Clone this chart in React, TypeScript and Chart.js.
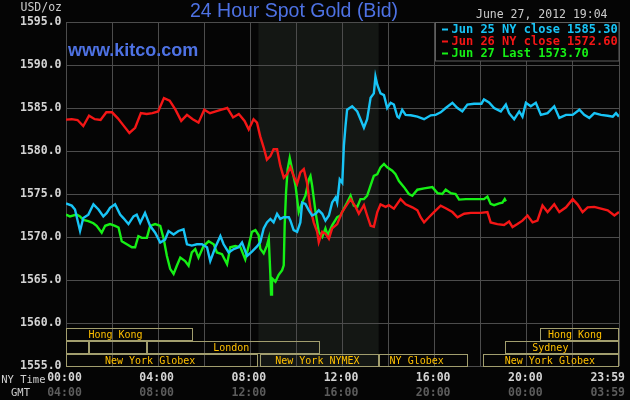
import React, { useEffect, useRef } from "react";
import { Chart, registerables } from "chart.js";

Chart.register(...registerables);

// ---------- data ----------
const titleText = "24 Hour Spot Gold (Bid)";
const siteText = "www.kitco.com";
const unitText = "USD/oz";
const stampText = "June 27, 2012 19:04";

const yTickValues = [1555, 1560, 1565, 1570, 1575, 1580, 1585, 1590, 1595];
const xLabelHours = [0, 4, 8, 12, 16, 20, 24];
const nyTimeLabels = ["00:00", "04:00", "08:00", "12:00", "16:00", "20:00", "23:59"];
const gmtLabels = ["04:00", "08:00", "12:00", "16:00", "20:00", "00:00", "03:59"];

const seriesNames = ["Jun 25 NY close", "Jun 26 NY close", "Jun 27 Last"];
const seriesQuotes = ["1585.30", "1572.60", "1573.70"];

const jun25Times = [0, 0.25, 0.39, 0.61, 0.75, 0.97, 1.19, 1.41, 1.62, 1.77, 1.91, 2.13, 2.35, 2.49, 2.71, 2.93, 3.07, 3.22, 3.43, 3.65, 3.87, 4.09, 4.3, 4.45, 4.67, 4.88, 5.1, 5.25, 5.46, 5.68, 5.9, 6.12, 6.26, 6.48, 6.7, 6.84, 7.06, 7.28, 7.49, 7.64, 7.86, 8.07, 8.29, 8.43, 8.58, 8.72, 8.87, 9.01, 9.16, 9.3, 9.45, 9.67, 9.74, 9.88, 10.03, 10.17, 10.25, 10.39, 10.54, 10.68, 10.83, 10.97, 11.12, 11.26, 11.41, 11.55, 11.7, 11.77, 11.88, 11.99, 12.06, 12.13, 12.2, 12.42, 12.64, 12.78, 12.93, 13.07, 13.22, 13.36, 13.43, 13.51, 13.65, 13.8, 13.94, 14.09, 14.23, 14.38, 14.45, 14.59, 14.74, 14.96, 15.25, 15.54, 15.83, 16.04, 16.26, 16.48, 16.77, 16.99, 17.2, 17.42, 17.71, 18.03, 18.14, 18.36, 18.58, 18.87, 19.09, 19.23, 19.45, 19.67, 19.81, 19.96, 20.17, 20.39, 20.61, 20.9, 21.19, 21.41, 21.7, 21.99, 22.28, 22.49, 22.71, 22.93, 23.22, 23.51, 23.73, 23.87, 24];
const jun25Values = [1573.9, 1573.65, 1573.2, 1570.7, 1572.2, 1572.6, 1573.8, 1573.2, 1572.4, 1572.8, 1573.4, 1573.8, 1572.6, 1572.2, 1571.5, 1572.4, 1572.6, 1571.65, 1572.8, 1571.3, 1570.5, 1569.35, 1569.7, 1570.7, 1570.3, 1570.7, 1570.9, 1569.15, 1569.0, 1569.15, 1569.15, 1568.8, 1567.2, 1568.8, 1570.1, 1569.15, 1568.2, 1568.6, 1568.8, 1569.35, 1567.8, 1568.3, 1568.9, 1569.4, 1571.0, 1571.7, 1572.1, 1571.7, 1572.7, 1572.1, 1572.3, 1572.3, 1571.9, 1570.8, 1570.6, 1571.7, 1574.0, 1573.85, 1573.1, 1572.5, 1572.7, 1573.1, 1572.7, 1571.9, 1572.5, 1574.0, 1574.6, 1574.0, 1576.7, 1576.3, 1580.6, 1582.9, 1584.8, 1585.2, 1584.6, 1583.7, 1582.7, 1583.7, 1586.2, 1586.7, 1588.65, 1587.7, 1586.7, 1586.5, 1585.0, 1585.6, 1585.4, 1584.0, 1583.85, 1584.8, 1584.2, 1584.15, 1584.0, 1583.7, 1584.15, 1584.2, 1584.5, 1585.0, 1585.6, 1585.0, 1584.6, 1585.4, 1585.5, 1585.5, 1586.0, 1585.65, 1585.0, 1584.6, 1585.4, 1584.4, 1583.7, 1584.6, 1584.0, 1585.6, 1585.2, 1585.6, 1584.2, 1584.4, 1585.2, 1583.85, 1584.2, 1584.2, 1584.8, 1584.2, 1583.85, 1584.4, 1584.2, 1584.1, 1584.0, 1584.4, 1584.0];

const jun26Times = [0, 0.25, 0.5, 0.75, 1.0, 1.25, 1.5, 1.75, 2.0, 2.25, 2.5, 2.75, 3.0, 3.25, 3.5, 3.75, 4.0, 4.25, 4.5, 4.75, 5.0, 5.25, 5.5, 5.75, 6.0, 6.25, 6.5, 6.75, 7.0, 7.25, 7.5, 7.75, 7.93, 8.14, 8.29, 8.43, 8.58, 8.72, 8.87, 9.01, 9.16, 9.3, 9.45, 9.59, 9.74, 9.88, 10.03, 10.17, 10.32, 10.46, 10.61, 10.75, 10.9, 10.97, 11.12, 11.26, 11.41, 11.55, 11.77, 11.98, 12.13, 12.35, 12.57, 12.71, 12.93, 13.07, 13.22, 13.36, 13.51, 13.65, 13.87, 14.01, 14.23, 14.52, 14.74, 15.03, 15.25, 15.39, 15.54, 15.75, 15.97, 16.26, 16.48, 16.77, 16.99, 17.28, 17.57, 18.0, 18.29, 18.43, 18.72, 19.01, 19.23, 19.38, 19.59, 19.81, 20.03, 20.25, 20.46, 20.68, 20.9, 21.19, 21.41, 21.7, 21.99, 22.2, 22.42, 22.64, 22.93, 23.22, 23.51, 23.8, 24];
const jun26Values = [1583.65, 1583.7, 1583.6, 1582.9, 1584.1, 1583.7, 1583.6, 1584.5, 1584.5, 1583.8, 1582.95, 1582.1, 1582.7, 1584.4, 1584.3, 1584.4, 1584.6, 1586.15, 1585.85, 1584.8, 1583.5, 1584.2, 1583.7, 1583.3, 1584.8, 1584.4, 1584.6, 1584.8, 1585.0, 1583.9, 1584.3, 1583.5, 1582.5, 1583.7, 1583.3, 1581.7, 1580.4, 1579.0, 1579.4, 1580.2, 1580.2, 1578.3, 1576.9, 1577.3, 1578.1, 1577.1, 1576.2, 1577.5, 1577.9, 1576.3, 1573.3, 1571.7, 1570.6, 1569.4, 1570.6, 1570.4, 1569.8, 1571.0, 1571.5, 1572.9, 1573.5, 1574.4, 1573.5, 1572.7, 1573.7, 1572.5, 1571.3, 1571.2, 1572.9, 1573.8, 1573.5, 1573.7, 1573.3, 1574.4, 1573.8, 1573.45, 1573.1, 1572.3, 1571.7, 1572.3, 1572.9, 1573.65, 1573.35, 1572.9, 1572.3, 1572.7, 1572.8, 1572.8, 1572.9, 1571.7, 1571.5, 1571.4, 1571.8, 1571.15, 1571.5, 1571.9, 1572.5, 1571.7, 1571.9, 1573.65, 1572.9, 1573.8, 1572.9, 1573.45, 1574.4, 1573.8, 1572.9, 1573.45, 1573.5, 1573.3, 1573.1, 1572.5, 1572.9];

const jun27Times = [0, 0.17, 0.46, 0.61, 0.75, 0.97, 1.19, 1.33, 1.55, 1.7, 1.91, 2.13, 2.28, 2.42, 2.64, 2.86, 3.0, 3.14, 3.29, 3.51, 3.65, 3.87, 4.09, 4.23, 4.38, 4.52, 4.67, 4.81, 4.96, 5.17, 5.32, 5.46, 5.61, 5.75, 5.97, 6.19, 6.41, 6.55, 6.77, 6.99, 7.13, 7.35, 7.57, 7.78, 7.93, 8.07, 8.22, 8.36, 8.43, 8.58, 8.72, 8.8, 8.87, 8.9, 8.94, 9.09, 9.23, 9.38, 9.45, 9.49, 9.55, 9.62, 9.71, 9.81, 9.96, 10.1, 10.25, 10.39, 10.54, 10.61, 10.68, 10.83, 10.97, 11.12, 11.26, 11.36, 11.55, 11.77, 11.91, 12.06, 12.2, 12.35, 12.49, 12.64, 12.78, 12.93, 13.07, 13.22, 13.36, 13.51, 13.65, 13.8, 13.94, 14.16, 14.3, 14.45, 14.67, 14.88, 15.03, 15.25, 15.54, 15.9, 16.12, 16.33, 16.48, 16.7, 16.91, 17.06, 17.35, 17.71, 18.14, 18.29, 18.43, 18.58, 18.8, 18.94, 19.04, 19.09];
const jun27Values = [1572.6, 1572.4, 1572.6, 1572.4, 1572.0, 1571.85, 1571.6, 1571.3, 1570.5, 1571.3, 1571.5, 1571.3, 1571.1, 1569.5, 1569.15, 1568.8, 1568.8, 1570.1, 1569.9, 1569.9, 1571.3, 1571.5, 1571.3, 1569.9, 1567.8, 1566.3, 1565.7, 1566.65, 1567.6, 1567.2, 1566.65, 1568.2, 1568.6, 1567.6, 1568.95, 1569.5, 1569.15, 1568.2, 1568.0, 1566.85, 1568.8, 1568.95, 1568.8, 1567.4, 1569.0, 1570.6, 1570.8, 1570.2, 1568.65, 1568.1, 1569.0, 1569.8, 1565.6, 1563.3, 1565.2, 1564.8, 1565.6, 1566.15, 1566.7, 1571.35, 1575.2, 1577.9, 1579.2, 1577.9, 1576.0, 1572.9, 1574.0, 1574.8, 1576.7, 1577.1, 1576.0, 1572.9, 1570.6, 1570.0, 1571.0, 1570.2, 1571.35, 1572.3, 1572.5, 1573.3, 1574.0, 1574.8, 1573.65, 1573.5, 1574.4, 1574.4, 1574.8, 1576.0, 1577.1, 1577.3, 1578.1, 1578.5, 1578.1, 1577.7, 1577.3, 1576.5, 1575.8, 1575.0, 1574.8, 1575.5, 1575.65, 1575.8, 1575.1, 1575.0, 1575.5, 1575.1, 1575.0, 1574.35, 1574.4, 1574.4, 1574.4, 1574.7, 1573.85, 1573.7, 1573.9, 1574.0, 1574.4, 1574.15];

// NYMEX pit shading (hours, NY time)
const shadeHours = [8.35, 13.57];

// market sessions
const sessionNames = ["Hong Kong", "Hong Kong", "", "", "London", "Sydney", "New York Globex", "New York NYMEX", "NY Globex", "New York Globex"];
const sessionRow = [0, 0, 1, 1, 1, 1, 2, 2, 2, 2];
const sessionStart = [0, 20.57, 0, 1.0, 3.52, 19.04, 0, 8.42, 13.57, 18.09];
const sessionEnd = [5.52, 24, 1.0, 3.52, 11.04, 24, 8.33, 13.57, 17.43, 24];
const sessionLabelAt = [2.15, 22.09, 0, 0, 7.17, 21.02, 3.65, 10.91, 15.22, 21.0];

// ---------- styles ----------
const BLUE = "#18c4f6";
const RED = "#f41616";
const GREEN = "#16f016";
const seriesColors = [BLUE, RED, GREEN];
const MONO = '"DejaVu Sans Mono", monospace';
const SANS = '"Liberation Sans", Arial, sans-serif';

const toPoints = (t: number[], v: number[]) => t.map((h, i) => ({ x: h, y: v[i] }));

const decorPlugin = {
  id: "kitcoDecor",
  beforeDraw(chart: any) {
    const { ctx, chartArea: a, scales } = chart;
    const x = scales.x;
    ctx.save();
    ctx.fillStyle = "#050505";
    ctx.fillRect(0, 0, chart.width, chart.height);
    const s0 = x.getPixelForValue(shadeHours[0]);
    const s1 = x.getPixelForValue(shadeHours[1]);
    ctx.fillStyle = "#141714";
    ctx.fillRect(s0, a.top, s1 - s0, a.bottom - a.top);
    ctx.restore();
  },
  afterDraw(chart: any) {
    const { ctx, chartArea: a, scales } = chart;
    const x = scales.x;
    const y = scales.y;
    ctx.save();

    // session boxes
    const rowH = 13;
    const rowTop = (r: number) => Math.round(a.bottom) - 38 + r * rowH;
    ctx.strokeStyle = "#a29e6e";
    ctx.lineWidth = 1;
    ctx.font = `10px ${MONO}`;
    ctx.fillStyle = "#ffc000";
    ctx.textAlign = "center";
    ctx.textBaseline = "middle";
    for (let i = 0; i < sessionNames.length; i++) {
      const x0 = Math.round(x.getPixelForValue(sessionStart[i])) + 0.5;
      const x1 = Math.round(x.getPixelForValue(sessionEnd[i])) - 0.5;
      const t = rowTop(sessionRow[i]) + 0.5;
      ctx.strokeRect(x0, t, x1 - x0, 12);
      if (sessionNames[i]) {
        ctx.fillText(sessionNames[i], x.getPixelForValue(sessionLabelAt[i]), t + 6.5);
      }
    }

    // legend box
    const lx = 435.5;
    const ly = 22.5;
    ctx.fillStyle = "#050505";
    ctx.fillRect(lx, ly, a.right - lx, 38.5);
    ctx.strokeStyle = "#5e5e5e";
    ctx.strokeRect(lx, ly, a.right - lx, 38.5);
    ctx.font = `bold 12px ${MONO}`;
    ctx.textAlign = "left";
    ctx.textBaseline = "middle";
    for (let i = 0; i < seriesNames.length; i++) {
      const cy = 29.5 + i * 12;
      ctx.fillStyle = seriesColors[i];
      ctx.fillRect(442, cy - 1, 6, 2);
      ctx.fillText(`${seriesNames[i]} ${seriesQuotes[i]}`, 451.5, cy + 0.5);
    }

    // y labels
    ctx.font = `bold 11.5px ${MONO}`;
    ctx.fillStyle = "#d4d4d4";
    ctx.textAlign = "right";
    ctx.textBaseline = "middle";
    yTickValues.forEach((v) => {
      ctx.fillText(v.toFixed(1), 61.5, y.getPixelForValue(v) + 0.5);
    });

    // x labels
    xLabelHours.forEach((h, i) => {
      const px = x.getPixelForValue(h) - 1.5;
      const last = i === xLabelHours.length - 1;
      ctx.textAlign = last ? "right" : "center";
      const tx = last ? 625 : px;
      ctx.fillStyle = "#d4d4d4";
      ctx.fillText(nyTimeLabels[i], tx, 378.5);
      ctx.fillStyle = "#5c5c5c";
      ctx.fillText(gmtLabels[i], tx, 393.5);
    });
    ctx.font = `10.5px ${MONO}`;
    ctx.fillStyle = "#cfcfcf";
    ctx.textAlign = "right";
    ctx.fillText("NY Time", 45.5, 380);
    ctx.textAlign = "center";
    ctx.fillText("GMT", 20.5, 393);

    // header texts
    ctx.font = `11.5px ${MONO}`;
    ctx.fillStyle = "#cccccc";
    ctx.textAlign = "right";
    ctx.fillText(unitText, 62, 8.5);
    ctx.textAlign = "left";
    ctx.fillText(stampText, 476, 15.5);

    ctx.font = `19.5px ${SANS}`;
    ctx.fillStyle = "#4e72e4";
    ctx.textAlign = "center";
    ctx.textBaseline = "alphabetic";
    ctx.fillText(titleText, 294, 16.7);

    ctx.font = `bold 18px ${SANS}`;
    ctx.textAlign = "left";
    ctx.fillText(siteText, 68, 55.5);

    ctx.restore();
  },
};

export default function App() {
  const canvasRef = useRef<HTMLCanvasElement | null>(null);

  useEffect(() => {
    document.body.style.margin = "0";
    document.body.style.background = "#050505";
    const canvas = canvasRef.current;
    if (!canvas) return;
    const mk = (label: string, t: number[], v: number[], color: string) => ({
      label,
      data: toPoints(t, v),
      borderColor: color,
      backgroundColor: color,
      borderWidth: 2.4,
      pointRadius: 0,
      tension: 0,
      fill: false,
    });
    const chart = new Chart(canvas, {
      type: "line",
      data: {
        datasets: [
          mk(seriesNames[0], jun25Times, jun25Values, BLUE),
          mk(seriesNames[1], jun26Times, jun26Values, RED),
          mk(seriesNames[2], jun27Times, jun27Values, GREEN),
        ],
      },
      options: {
        animation: false,
        responsive: false,
        devicePixelRatio: 1,
        layout: { padding: { left: 66, right: 11, top: 22, bottom: 34 } },
        plugins: { legend: { display: false }, tooltip: { enabled: false } },
        scales: {
          x: {
            type: "linear",
            min: 0,
            max: 24,
            ticks: { display: false, stepSize: 2 },
            grid: { color: "#4c4c4c", lineWidth: 1, drawTicks: false },
            border: { display: false },
          },
          y: {
            type: "linear",
            min: 1555,
            max: 1595,
            ticks: { display: false, stepSize: 5 },
            grid: { color: "#4c4c4c", lineWidth: 1, drawTicks: false },
            border: { display: false },
          },
        },
      },
      plugins: [decorPlugin],
    } as any);
    return () => chart.destroy();
  }, []);

  return (
    <div style={{ position: "fixed", left: 0, top: 0, width: 630, height: 400, background: "#050505" }}>
      <canvas ref={canvasRef} width={630} height={400} style={{ display: "block" }} />
    </div>
  );
}
